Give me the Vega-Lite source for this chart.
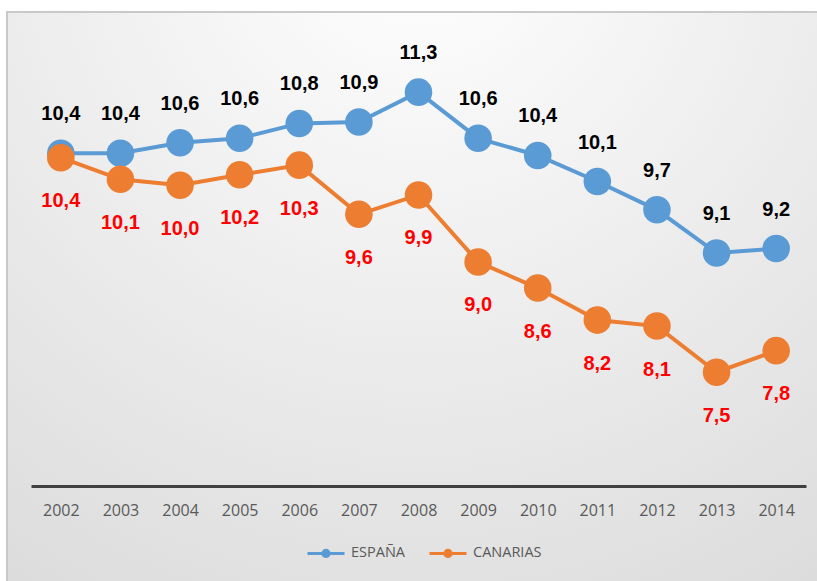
{
  "$schema": "https://vega.github.io/schema/vega-lite/v6.json",
  "width": 818,
  "height": 574,
  "autosize": {"type": "none"},
  "padding": {"left": 7, "top": 12, "right": -8, "bottom": -5},
  "background": "#ffffff",
  "config": {
    "locale": {"number": {"decimal": ",", "thousands": ".", "grouping": [3], "currency": ["", " €"]}},
    "view": {
      "fill": {"gradient": "radial", "x1": 0.5, "y1": 0.05, "r1": 0, "x2": 0.5, "y2": 0.05, "r2": 1.15,
        "stops": [{"offset": 0, "color": "#ffffff"}, {"offset": 1, "color": "#d4d4d4"}]},
      "stroke": "#c9c9c9",
      "strokeWidth": 2
    }
  },
  "data": {
    "values": [
      {"year": "2002", "serie": "ESPAÑA", "value": 10.44},
      {"year": "2003", "serie": "ESPAÑA", "value": 10.44},
      {"year": "2004", "serie": "ESPAÑA", "value": 10.58},
      {"year": "2005", "serie": "ESPAÑA", "value": 10.64},
      {"year": "2006", "serie": "ESPAÑA", "value": 10.84},
      {"year": "2007", "serie": "ESPAÑA", "value": 10.86},
      {"year": "2008", "serie": "ESPAÑA", "value": 11.26},
      {"year": "2009", "serie": "ESPAÑA", "value": 10.64},
      {"year": "2010", "serie": "ESPAÑA", "value": 10.41},
      {"year": "2011", "serie": "ESPAÑA", "value": 10.06},
      {"year": "2012", "serie": "ESPAÑA", "value": 9.68},
      {"year": "2013", "serie": "ESPAÑA", "value": 9.1},
      {"year": "2014", "serie": "ESPAÑA", "value": 9.16},
      {"year": "2002", "serie": "CANARIAS", "value": 10.38},
      {"year": "2003", "serie": "CANARIAS", "value": 10.09},
      {"year": "2004", "serie": "CANARIAS", "value": 10.01},
      {"year": "2005", "serie": "CANARIAS", "value": 10.15},
      {"year": "2006", "serie": "CANARIAS", "value": 10.28},
      {"year": "2007", "serie": "CANARIAS", "value": 9.62},
      {"year": "2008", "serie": "CANARIAS", "value": 9.88},
      {"year": "2009", "serie": "CANARIAS", "value": 8.98},
      {"year": "2010", "serie": "CANARIAS", "value": 8.63},
      {"year": "2011", "serie": "CANARIAS", "value": 8.2},
      {"year": "2012", "serie": "CANARIAS", "value": 8.12},
      {"year": "2013", "serie": "CANARIAS", "value": 7.5},
      {"year": "2014", "serie": "CANARIAS", "value": 7.79}
    ]
  },
  "encoding": {
    "x": {
      "field": "year", "type": "ordinal",
      "scale": {"type": "point", "range": [24, 799], "padding": 0.5},
      "axis": {
        "title": null, "orient": "bottom", "offset": -100,
        "domainColor": "#404040", "domainWidth": 3, "ticks": false, "grid": false,
        "labelAngle": 0, "labelFont": "Open Sans", "labelFontSize": 16, "labelColor": "#595959",
        "labelPadding": 16
      }
    },
    "y": {
      "field": "value", "type": "quantitative",
      "scale": {"domain": [6, 12], "range": [472, 25], "zero": false, "nice": false},
      "axis": null
    }
  },
  "layer": [
    {
      "mark": {"type": "line", "strokeWidth": 4},
      "encoding": {
        "color": {
          "field": "serie", "type": "nominal",
          "scale": {"domain": ["ESPAÑA", "CANARIAS"], "range": ["#5B9BD5", "#ED7D31"]},
          "legend": {
            "orient": "none", "legendX": 299, "legendY": 521, "direction": "horizontal", "title": null,
            "symbolType": "M-1,0L1,0M-0.17,0A0.17,0.17,0,1,1,0.17,0A0.17,0.17,0,1,1,-0.17,0Z",
            "symbolSize": 1369, "symbolStrokeWidth": 3,
            "labelFont": "Open Sans", "labelFontSize": 14.5, "labelColor": "#595959",
            "labelOffset": 5, "columnPadding": 18,
            "encode": {"symbols": {"update": {
              "fill": {"scale": "color", "field": "value"},
              "stroke": {"scale": "color", "field": "value"},
              "strokeWidth": {"value": 3}
            }}}
          }
        }
      }
    },
    {
      "mark": {"type": "point", "filled": true, "opacity": 1, "size": 760},
      "encoding": {
        "color": {"field": "serie", "type": "nominal", "legend": null}
      }
    },
    {
      "transform": [{"filter": "datum.serie === 'ESPAÑA'"}],
      "mark": {"type": "text", "dy": -39, "baseline": "middle", "font": "Liberation Sans", "fontSize": 20, "fontWeight": "bold", "color": "#000000"},
      "encoding": {"text": {"field": "value", "type": "quantitative", "format": ".1f"}}
    },
    {
      "transform": [{"filter": "datum.serie === 'CANARIAS'"}],
      "mark": {"type": "text", "dy": 43.5, "baseline": "middle", "font": "Liberation Sans", "fontSize": 20, "fontWeight": "bold", "color": "#FF0000"},
      "encoding": {"text": {"field": "value", "type": "quantitative", "format": ".1f"}}
    }
  ]
}
